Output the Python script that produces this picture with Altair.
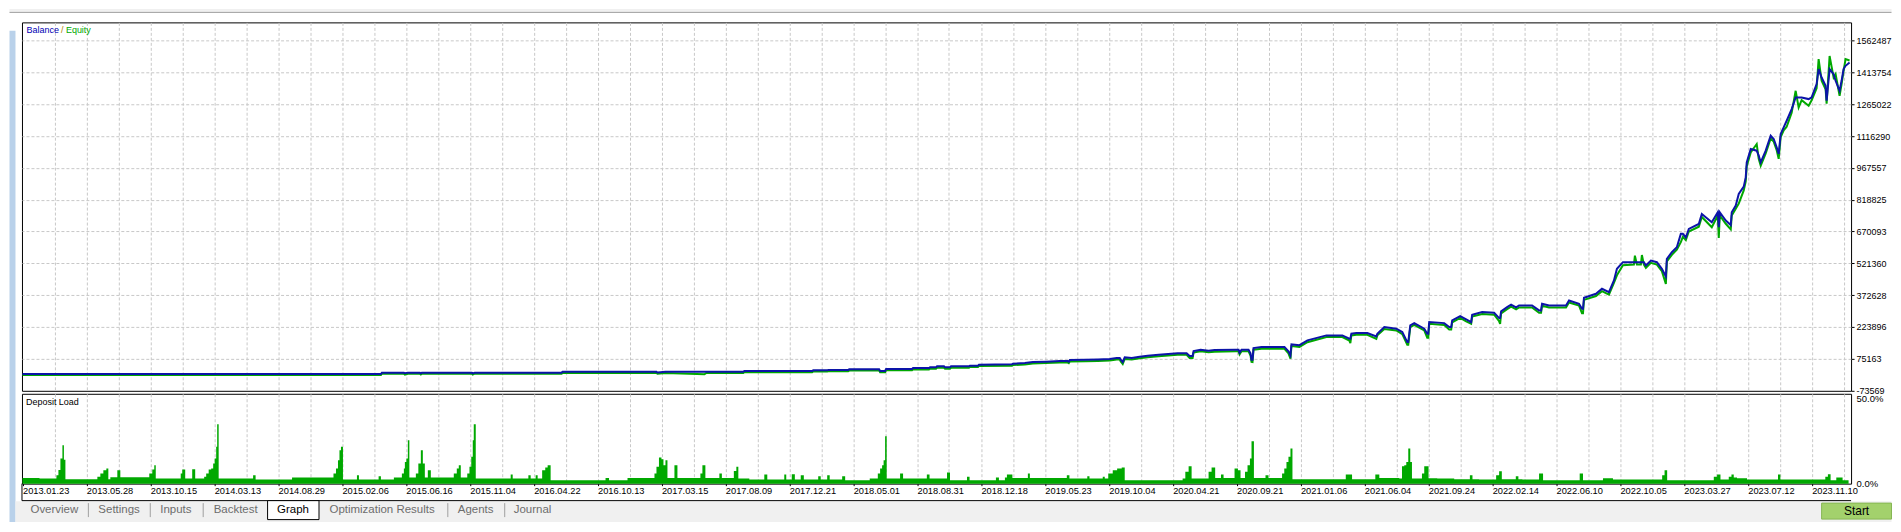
import altair as alt
import pandas as pd

# ---------------- data ----------------
dates = ["2013.01.23", "2013.05.28", "2013.10.15", "2014.03.13", "2014.08.29", "2015.02.06",
         "2015.06.16", "2015.11.04", "2016.04.22", "2016.10.13", "2017.03.15", "2017.08.09",
         "2017.12.21", "2018.05.01", "2018.08.31", "2018.12.18", "2019.05.23", "2019.10.04",
         "2020.04.21", "2020.09.21", "2021.01.06", "2021.06.04", "2021.09.24", "2022.02.14",
         "2022.06.10", "2022.10.05", "2023.03.27", "2023.07.12", "2023.11.10"]

y_ticks = [1562487, 1413754, 1265022, 1116290, 967557, 818825, 670093, 521360,
           372628, 223896, 75163, -73569]

# position along the tester's bar axis
trade_idx = [0, 359, 360, 382, 383, 386, 398, 399, 400, 450,
             451, 453, 540, 541, 635, 636, 644, 683, 685, 722,
             723, 791, 792, 806, 807, 827, 828, 858, 859, 864,
             865, 891, 892, 908, 909, 915, 916, 923, 924, 929,
             930, 948, 949, 957, 958, 991, 992, 1004, 1012, 1025,
             1039, 1047, 1048, 1049, 1065, 1077, 1089, 1096, 1099, 1100,
             1102, 1104, 1111, 1119, 1127, 1138, 1157, 1166, 1169, 1172,
             1173, 1180, 1188, 1194, 1215, 1218, 1219, 1221, 1228, 1230,
             1231, 1232, 1233, 1241, 1264, 1268, 1270, 1271, 1279, 1287,
             1306, 1322, 1329, 1330, 1331, 1336, 1347, 1356, 1357, 1364,
             1376, 1382, 1387, 1388, 1390, 1394, 1404, 1407, 1408, 1409,
             1424, 1429, 1431, 1432, 1440, 1446, 1451, 1452, 1462, 1474,
             1479, 1480, 1481, 1487, 1491, 1496, 1499, 1512, 1519, 1521,
             1522, 1529, 1546, 1549, 1559, 1562, 1563, 1564, 1576, 1582,
             1589, 1594, 1597, 1603, 1614, 1615, 1617, 1621, 1622, 1624,
             1626, 1631, 1637, 1642, 1646, 1647, 1652, 1657, 1661, 1663,
             1666, 1669, 1679, 1682, 1692, 1698, 1699, 1700, 1706, 1711,
             1712, 1716, 1719, 1724, 1726, 1727, 1731, 1737, 1739, 1741,
             1746, 1751, 1754, 1757, 1759, 1761, 1764, 1767, 1772, 1776,
             1779, 1782, 1789, 1792, 1797, 1799, 1802, 1806, 1807, 1810,
             1814, 1816, 1820, 1822, 1824, 1826, 1830]

balance = [3200, 3200, 9800, 9800, 6800, 9800, 9800, 6800, 9800, 9800,
           6500, 9800, 9800, 13500, 13500, 10500, 13500, 13500, 13500, 13500,
           17300, 17300, 20500, 20500, 22000, 22000, 25200, 25200, 17300, 17300,
           26600, 26600, 31300, 31300, 34500, 34500, 39200, 39200, 34500, 34500,
           39200, 39200, 42500, 42500, 47100, 48500, 51800, 54600, 59300, 61200,
           64000, 64000, 61200, 68600, 70500, 71500, 73300, 78000, 78000, 70500,
           59300, 81200, 78000, 84500, 89200, 93800, 99900, 99900, 87300, 87300,
           110700, 117200, 112500, 115300, 117200, 117200, 103200, 117200, 117200, 100000,
           70500, 70500, 124700, 129300, 129300, 110000, 90600, 141900, 138000, 160600,
           184000, 184000, 168600, 168600, 191900, 194700, 194700, 179300, 191900, 222700,
           215300, 199400, 152700, 152700, 230700, 241400, 215300, 191900, 191900, 246100,
           241400, 222700, 222700, 254000, 274100, 258700, 246100, 280600, 292800, 290000,
           265000, 265000, 296000, 316100, 327300, 315000, 324100, 324100, 300700, 300700,
           332000, 324100, 324100, 347400, 332000, 308700, 308700, 360000, 378700, 402100,
           386200, 440800, 495400, 526300, 526300, 526300, 526300, 526300, 526300, 526300,
           510900, 534200, 526300, 495400, 459500, 542100, 573000, 596300, 658900, 658900,
           642000, 682200, 705000, 752300, 713100, 759800, 690000, 759800, 721000, 700000,
           759800, 791100, 845700, 879800, 923200, 993200, 1055800, 1048000, 1024500, 993200,
           1048000, 1117900, 1102400, 1063300, 1032500, 1125900, 1156700, 1188000, 1242600, 1296800,
           1296800, 1296800, 1289300, 1296800, 1359400, 1429400, 1390200, 1351400, 1281400, 1429400,
           1406100, 1374800, 1328100, 1374800, 1430000, 1444800, 1460200]

equity = [-1800, -1800, 4800, 4800, 800, 4800, 4800, 800, 4800, 4800,
          500, 4800, 4800, 8500, 8500, 4500, 8500, 2000, 8500, 8500,
          12000, 12000, 15000, 15000, 16500, 16500, 19500, 19500, 11000, 11000,
          20500, 20500, 25000, 25000, 28000, 28000, 32500, 32500, 28000, 28000,
          32500, 32500, 36000, 36000, 40500, 41500, 45000, 48000, 52500, 54500,
          57000, 57000, 54000, 62000, 63500, 64500, 66500, 71000, 71000, 62000,
          50000, 74000, 71000, 77500, 82000, 86500, 93000, 93000, 78000, 78000,
          103500, 110000, 105500, 108000, 110000, 110000, 95000, 110000, 110000, 90000,
          60000, 59000, 117000, 121000, 121000, 100000, 75000, 134000, 130000, 152000,
          176000, 176000, 160000, 148000, 184000, 186500, 186500, 168000, 184000, 214000,
          207000, 190000, 140000, 140000, 222000, 233000, 207000, 173000, 173000, 238000,
          233000, 212000, 212000, 245000, 266000, 250000, 238000, 272000, 284000, 281000,
          250000, 238000, 287000, 307000, 318000, 306000, 315000, 315000, 290000, 290000,
          323000, 315000, 315000, 338000, 323000, 287000, 287000, 350000, 368000, 391000,
          375000, 430000, 465000, 512000, 515000, 557000, 515000, 515000, 560000, 515000,
          500000, 523000, 515000, 484000, 425000, 530000, 561000, 585000, 620000, 645000,
          630000, 670000, 692000, 738000, 690000, 745000, 640000, 745000, 706000, 680000,
          745000, 776000, 800000, 862000, 905000, 975000, 1040000, 1079000, 1010000, 977800,
          1035000, 1105000, 1090000, 1050000, 1010000, 1112000, 1143000, 1160000, 1225000, 1328000,
          1250000, 1284000, 1258000, 1284000, 1340000, 1476000, 1375000, 1335000, 1268000, 1491000,
          1390000, 1406000, 1304700, 1360000, 1421000, 1476000, 1470000]

# deposit load: (bar position, load %)
deposit_load = [
    (0, 3.4), (17, 3.0), (34, 5.0), (36, 8.0), (38, 14.8), (40, 22.6), (41.5, 14.0), (43, 2.6),
    (75, 4.0), (78, 6.0), (81, 7.9), (84, 8.9), (86, 2.6), (88, 3.8), (95, 7.9), (98, 3.8),
    (127, 6.0), (130, 8.3), (132, 10.9), (133.5, 3.0),
    (158.5, 6.0), (160, 8.3), (163, 3.0), (170, 8.5), (173, 3.0),
    (182, 4.0), (184, 6.0), (186.5, 8.3), (189, 8.9), (191, 11.9), (192.5, 14.8), (194, 21.7),
    (195, 35.0), (196.5, 3.0),
    (231, 5.0), (233.5, 2.45), (270, 3.6),
    (311.5, 6.0), (314, 8.9), (316, 13.8), (317.5, 19.7), (319, 21.7), (321, 2.45),
    (335, 5.0), (337, 2.45), (356.7, 4.4), (359, 2.45), (372, 3.6),
    (380, 6.0), (382, 8.9), (383, 12.8), (384.5, 14.8), (386, 25.6), (387.5, 3.6),
    (394, 6.0), (396.5, 11.9), (399, 19.7), (401, 11.9), (403, 3.6), (406, 7.9), (409, 3.6),
    (432, 6.0), (435, 8.9), (437, 10.9), (439, 3.6),
    (445.5, 6.0), (447.7, 9.9), (449.5, 15.8), (451, 25.6), (452, 35.0), (454, 3.0),
    (489, 5.4), (491, 3.0), (506.7, 5.0), (509, 3.0), (514, 5.0), (516, 3.0),
    (520.5, 7.9), (523.6, 9.5), (526, 10.9), (529, 2.06),
    (584, 3.3), (587.5, 2.06), (606, 3.4),
    (633, 6.0), (635, 9.9), (637.5, 15.4), (640, 14.4), (642, 10.9), (644, 13.8), (646, 3.4),
    (653, 10.9), (656, 3.4),
    (679, 6.0), (681, 10.9), (684, 3.4), (698, 6.0), (700.5, 3.4),
    (712.5, 7.5), (715, 9.9), (717, 3.0), (728, 2.45),
    (743, 5.4), (746, 2.45), (763, 5.4), (765, 2.45), (770.5, 5.6), (773.6, 2.45),
    (779.5, 5.0), (782.6, 2.45),
    (797, 4.4), (799.5, 2.45), (806, 5.0), (808.5, 2.45), (821, 4.4), (824, 2.06), (848.6, 3.0),
    (856.7, 6.0), (859, 8.9), (861, 10.9), (862.5, 13.8), (864, 27.9), (865.6, 3.0),
    (879, 6.0), (882, 3.0), (905.8, 5.4), (908.5, 3.0), (926, 6.6), (929, 2.06),
    (946, 4.0), (948.6, 2.06), (975, 3.6), (978, 2.06), (984, 3.6), (986, 5.4), (991.5, 3.4),
    (1007, 6.0), (1009, 3.4), (1046, 5.0), (1048.6, 3.0), (1066.5, 4.4), (1068.7, 3.0),
    (1082, 4.0), (1084, 3.0),
    (1087.5, 6.0), (1092, 7.9), (1096.4, 8.9), (1101, 9.5), (1104, 2.06),
    (1162, 3.0), (1164.7, 7.0), (1168, 10.3), (1171, 3.0),
    (1188, 7.0), (1191, 9.5), (1194.6, 3.4), (1200.4, 5.4), (1203, 3.4),
    (1214, 8.9), (1217.4, 7.9), (1220, 3.4),
    (1224.5, 7.0), (1227, 10.9), (1229.4, 14.8), (1231, 25.0), (1233.4, 3.4),
    (1245, 5.0), (1248, 3.4),
    (1261.6, 6.0), (1263.8, 8.9), (1266, 12.8), (1268, 15.8), (1270, 20.7), (1272, 2.65),
    (1325.4, 5.4), (1331.7, 2.65), (1355, 5.4), (1359, 3.4),
    (1379, 3.0), (1381.7, 10.3), (1384, 10.9), (1386, 12.8), (1388, 20.7), (1390, 12.8), (1391.7, 3.0),
    (1401.7, 6.0), (1404, 10.3), (1408.3, 3.24), (1417, 3.04), (1434, 2.65), (1449.7, 5.0),
    (1452.3, 2.65), (1459, 2.45),
    (1476, 5.0), (1479, 7.35), (1481.7, 2.65), (1495.7, 4.4), (1498.3, 2.65), (1502.3, 2.45),
    (1519, 6.0), (1523, 2.06), (1559.7, 6.0), (1563, 2.06), (1583, 3.24), (1593, 2.45),
    (1642.3, 5.0), (1644.7, 7.94), (1647.3, 2.06),
    (1694, 4.0), (1697.3, 5.4), (1700.7, 2.45), (1709, 4.0), (1711.7, 5.4), (1714, 3.6),
    (1717.3, 3.24), (1727.3, 2.45),
    (1758.3, 5.4), (1760.7, 2.45), (1805.7, 4.0), (1808.3, 5.6), (1811, 2.06), (1816.7, 3.63),
    (1823, 2.06), (1829, 0.0),
]

tabs = ["Overview", "Settings", "Inputs", "Backtest", "Graph", "Optimization Results", "Agents", "Journal"]

# ---------------- layout / style constants ----------------
W, H1, H2 = 1832, 369, 90
BLUE = "#0c14a8"
GREEN = "#00a800"
GRID = "#c8c8c8"
FONT = "Liberation Sans"
TAB_X = [8.5, 76.5, 138.5, 192, 255.5, 308, 436.5, 492.5]
SEP_X = [66.5, 128.5, 181.5, 426.5, 483.5]

curve = pd.DataFrame({"idx": trade_idx, "balance": balance, "equity": equity})
dep = pd.DataFrame(deposit_load, columns=["idx", "load"])
one = pd.DataFrame({"k": [0]})

grid_vals = list(range(0, 1825, 32))
xs = alt.Scale(domain=[-0.5, 1831.5], nice=False, zero=False)
hide_zero = {"condition": {"test": "datum.value == 0", "value": 0}, "value": 1}


def rect(x1, x2, y1, y2, fill, stroke=None):
    kw = dict(fill=fill, strokeWidth=0)
    if stroke:
        kw = dict(fill=fill, stroke=stroke, strokeWidth=1)
    return alt.Chart(one).mark_rect(**kw).encode(
        x=alt.value(x1), x2=alt.value(x2), y=alt.value(y1), y2=alt.value(y2))


def label(txt, x, y, color, size, align="left"):
    return alt.Chart(one).mark_text(text=txt, align=align, baseline="middle", font=FONT,
                                    fontSize=size, color=color).encode(
        x=alt.value(x), y=alt.value(y))


def vline(x, y1, y2, color):
    return alt.Chart(one).mark_rule(color=color, strokeWidth=1).encode(
        x=alt.value(x), y=alt.value(y1), y2=alt.value(y2))


def hline(x1, x2, y, color):
    return alt.Chart(one).mark_rule(color=color, strokeWidth=1).encode(
        x=alt.value(x1), x2=alt.value(x2), y=alt.value(y))


# ---------------- main panel ----------------
x_main = alt.X("idx:Q", scale=xs, axis=alt.Axis(
    values=grid_vals, grid=True, gridColor=GRID, gridDash=[3, 2], gridOpacity=hide_zero,
    labels=False, ticks=False, domain=False, title=None))

ys_main = alt.Scale(domain=[-75200, 1648000], nice=False, zero=False)
y_axis_main = alt.Axis(
    orient="right", values=y_ticks, labelExpr="'' + datum.value", grid=True, gridColor=GRID,
    gridDash=[3, 2], gridOpacity={"condition": {"test": "datum.value < 0", "value": 0}, "value": 1},
    tickSize=3, tickColor="black", domain=False, labelFont=FONT, labelFontSize=9,
    labelColor="black", labelPadding=2, labelOverlap=False, labelFlush=False, title=None)

eq_line = alt.Chart(curve).mark_line(color=GREEN, strokeWidth=2).encode(
    x=x_main, y=alt.Y("equity:Q", scale=ys_main, axis=y_axis_main))
bal_line = alt.Chart(curve).mark_line(color=BLUE, strokeWidth=2).encode(
    x=x_main, y=alt.Y("balance:Q", scale=ys_main, axis=y_axis_main))

main = alt.layer(
    rect(-12.5, 1872.5, -13.5, -10.5, "#f0f0f0"),
    hline(-12.5, 1872.5, -10, "#a0a0a0"),
    rect(-12.5, -6.5, 8.5, 500.5, "#b9d1ea"),
    eq_line,
    bal_line,
    label("Balance", 4.5, 8, "#0000b4", 9),
    label("/", 39, 8, "#b08000", 9),
    label("Equity", 44, 8, "#00a800", 9),
).properties(width=W, height=H1)

# ---------------- deposit load panel ----------------
js_dates = "[" + ",".join("'" + d + "'" for d in dates) + "]"
x_dep_axis = alt.Axis(
    values=grid_vals, grid=True, gridColor=GRID, gridDash=[3, 2], gridOpacity=hide_zero,
    labelExpr="datum.value % 64 == 0 ? " + js_dates + "[datum.value / 64] : ''",
    labelAlign="left", labelBaseline="top", labelPadding=1, labelFont=FONT, labelFontSize=9.3,
    labelColor="black", labelOverlap=False, labelFlush=False, tickSize=2, tickColor="black",
    tickOpacity={"condition": {"test": "datum.value % 64 == 0", "value": 1}, "value": 0},
    domain=False, title=None)
y_dep_axis = alt.Axis(
    orient="right", values=[0, 50], labelExpr="format(datum.value, '.1f') + '%'", grid=False,
    ticks=False, domain=False, labelPadding=5, labelFont=FONT, labelFontSize=9.5,
    labelColor="black", labelOverlap=False, labelFlush=False, title=None)

dep_area = alt.Chart(dep).mark_area(color=GREEN, interpolate="step-after").encode(
    x=alt.X("idx:Q", scale=xs, axis=x_dep_axis),
    y=alt.Y("load:Q", scale=alt.Scale(domain=[0, 52.9], nice=False, zero=False), axis=y_dep_axis))

dep_layers = [
    rect(-6.5, 1872.5, 107.5, 128.5, "#f0f0f0"),
    dep_area,
    vline(0, 90, 107, "black"),
    hline(0, W, 107, "black"),
    rect(246, 297.5, 107, 126, "white", stroke="black"),
]
for name, tx in zip(tabs, TAB_X):
    dep_layers.append(label(name, tx, 116.5, "black" if name == "Graph" else "#6d6d6d", 11.5))
for sx in SEP_X:
    dep_layers.append(vline(sx, 109.5, 123.5, "#a0a0a0"))
dep_layers += [
    rect(1802.5, 1872.5, 109.5, 125.5, "#a3d16c", stroke="#86b653"),
    label("Start", 1837.5, 117.5, "black", 12, align="center"),
    label("Deposit Load", 4, 8, "black", 9),
]
deposit = alt.layer(*dep_layers).properties(width=W, height=H2)

chart = alt.vconcat(main, deposit, spacing=3, bounds="flush").properties(
    padding=0, background="white"
).configure_view(stroke="black", strokeWidth=1).configure_axis(labelFont=FONT)

chart.save("out.html", embed_options={"renderer": "svg", "actions": False})
